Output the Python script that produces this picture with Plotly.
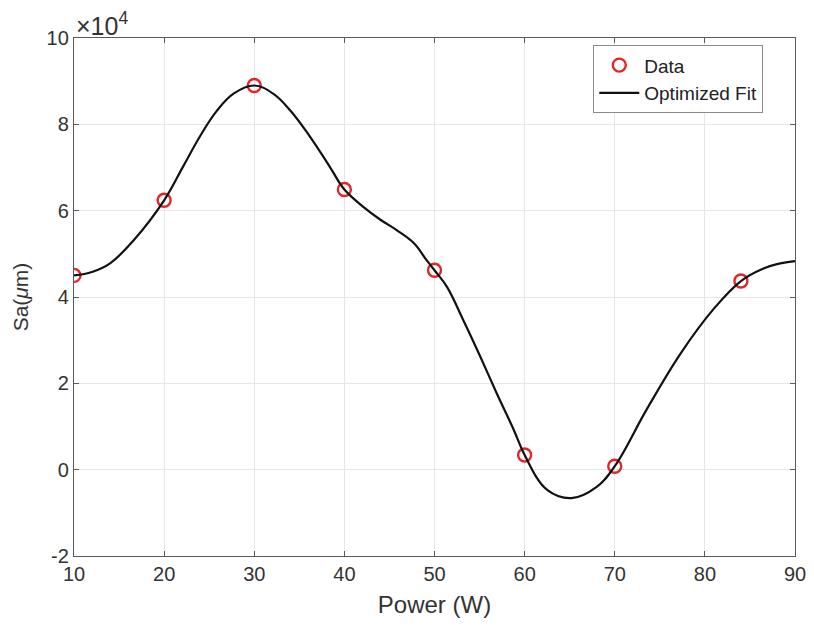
import plotly.graph_objects as go

# Measured data (Power in W, Sa values)
power = [10, 20, 30, 40, 50, 60, 70, 84]
sa = [45000, 62400, 89000, 64900, 46200, 3400, 800, 43700]

# Optimized fit curve
fit_power = [10, 12, 14, 16.6, 20, 22.1, 24, 25.8, 27.7, 30, 32.1, 34, 36.2, 38.4, 40, 42.1, 44,
             45.8, 47.7, 49.1, 50, 51.4, 53.2, 55.1, 56.9, 58.8, 60, 62.5, 65.2, 68, 70, 73.5,
             77.3, 81, 84, 86.5, 88, 90]
fit_sa = [45000, 45800, 47800, 53100, 62400, 70200, 77300, 83000, 87100, 89000, 87100, 83200,
          77100, 70100, 64900, 60900, 57900, 55500, 52500, 48600, 46200, 42300, 34600, 26100,
          17700, 9200, 3400, -4700, -6600, -4000, 800, 13800, 26900, 37300, 43700, 46600,
          47600, 48300]

y_ticks = [-20000, 0, 20000, 40000, 60000, 80000, 100000]
y_ticktext = ["-2", "0", "2", "4", "6", "8", "10"]
x_ticks = [10, 20, 30, 40, 50, 60, 70, 80, 90]

font = "Liberation Sans, Arial, sans-serif"
txt = "#333333"

fig = go.Figure()
fig.add_trace(go.Scatter(
    x=power, y=sa, mode="markers", name="Data",
    marker=dict(symbol="circle-open", size=13, color="#e0262b", line=dict(width=2.4, color="#e0262b")),
))
fig.add_trace(go.Scatter(
    x=fit_power, y=fit_sa, mode="lines", name="Optimized Fit",
    line=dict(color="#111111", width=2.2, shape="spline", smoothing=1.1),
))

axis_common = dict(
    showgrid=True, gridcolor="#e6e6e6", gridwidth=1,
    showline=True, linecolor="#5a5a5a", linewidth=1.3, mirror="ticks",
    ticks="inside", ticklen=5, tickcolor="#5a5a5a",
    tickfont=dict(family=font, size=20, color=txt),
    zeroline=False, automargin=False,
)

fig.update_layout(
    width=806, height=616,
    margin=dict(l=66, r=19, t=30, b=68),
    paper_bgcolor="white", plot_bgcolor="white",
    font=dict(family=font, color=txt),
    xaxis=dict(range=[10, 90], tickvals=x_ticks,
               title=dict(text="Power (W)", font=dict(family=font, size=24, color=txt), standoff=12),
               **axis_common),
    yaxis=dict(range=[-20000, 100000], tickvals=y_ticks, ticktext=y_ticktext,
               title=dict(text="Sa(<i>μ</i>m)", font=dict(family=font, size=21, color=txt), standoff=12),
               **axis_common),
    legend=dict(x=0.956, y=0.986, xanchor="right", yanchor="top",
                bordercolor="#8a8a8a", borderwidth=1, bgcolor="white",
                font=dict(family=font, size=19, color="#222222"),
                tracegroupgap=0, itemwidth=40),
    showlegend=True,
    annotations=[dict(x=0, y=1, xref="paper", yref="paper", xanchor="left", yanchor="bottom",
                      text="×10<sup>4</sup>", showarrow=False, yshift=-4,
                      font=dict(family=font, size=25, color=txt))],
)

fig.write_html("out.html")
